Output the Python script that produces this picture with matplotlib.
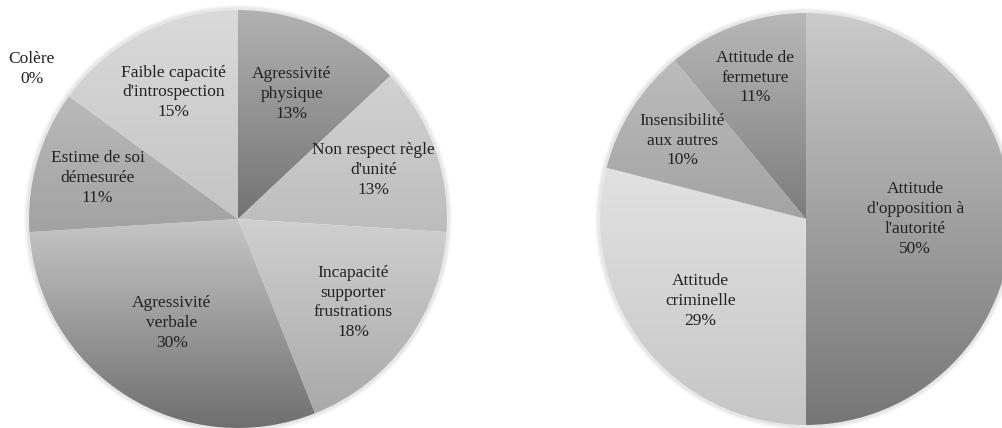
import numpy as np
import matplotlib.pyplot as plt
from matplotlib.colors import LinearSegmentedColormap
from matplotlib.patches import Circle

# left pie: behaviour problems
left_labels = ["Agressivité\nphysique", "Non respect règle\nd'unité",
               "Incapacité\nsupporter\nfrustrations", "Agressivité\nverbale",
               "Estime de soi\ndémesurée", "Colère", "Faible capacité\nd'introspection"]
left_values = [13, 13, 18, 30, 11, 0, 15]

# right pie: attitudes
right_labels = ["Attitude\nd'opposition à\nl'autorité", "Attitude\ncriminelle",
                "Insensibilité\naux autres", "Attitude de\nfermeture"]
right_values = [50, 29, 10, 11]

# gradient (top, bottom) for each slice
left_grad = [("#b2b2b2", "#737373"), ("#d2d2d2", "#bdbdbd"), ("#d0d0d0", "#a9a9a9"),
             ("#c6c6c6", "#6f6f6f"), ("#bababa", "#a2a2a2"), ("#cccccc", "#cccccc"),
             ("#dadada", "#c4c4c4")]
right_grad = [("#cbcbcb", "#767676"), ("#e2e2e2", "#c6c6c6"),
              ("#bcbcbc", "#a3a3a3"), ("#b8b8b8", "#7c7c7c")]

# label distance as fraction of radius
left_lab_r = [0.65, 0.69, 0.68, 0.59, 0.70, 1.22, 0.68]
right_lab_r = [0.53, 0.65, 0.71, 0.73]

W, H = 1002, 428
plt.rcParams['font.family'] = ['Liberation Serif', 'DejaVu Serif']

fig = plt.figure(figsize=(W / 100, H / 100), dpi=100)
ax = fig.add_axes([0, 0, 1, 1])


def gradient_pie(ax, values, labels, grads, lab_r, center, radius):
    # soft shadow round the pie
    for k in range(5):
        ax.add_patch(Circle(center, radius + 0.5 + k * 0.9, fc='none', ec='#808080',
                            lw=1.6, alpha=0.10 - k * 0.018, zorder=1))
    wedges, _ = ax.pie(values, center=center, radius=radius, startangle=90,
                       counterclock=False, normalize=True,
                       wedgeprops=dict(fc='none', ec='none'))
    for w, (c_top, c_bot), lab, v, rf in zip(wedges, grads, labels, values, lab_r):
        if v > 0:
            ext = w.get_path().get_extents()
            cmap = LinearSegmentedColormap.from_list('g', [c_bot, c_top])
            grad = np.linspace(0, 1, 256).reshape(-1, 1)
            im = ax.imshow(grad, cmap=cmap, origin='lower', aspect='auto',
                           extent=[ext.x0, ext.x1, ext.y0, ext.y1], zorder=2,
                           interpolation='bilinear')
            im.set_clip_path(w)
        mid = np.deg2rad((w.theta1 + w.theta2) / 2)
        x = center[0] + rf * radius * np.cos(mid)
        y = center[1] + rf * radius * np.sin(mid)
        ax.text(x, y, f"{lab}\n{v}%", ha='center', va='center', fontsize=12.5,
                color='#222222', linespacing=1.32, zorder=5)


gradient_pie(ax, left_values, left_labels, left_grad, left_lab_r, (238, 209), 209)
gradient_pie(ax, right_values, right_labels, right_grad, right_lab_r, (806, 209), 206)

ax.set_xlim(0, W)
ax.set_ylim(0, H)
ax.set_aspect('equal')
ax.axis('off')

plt.savefig("out.png", dpi=100, facecolor='white')
